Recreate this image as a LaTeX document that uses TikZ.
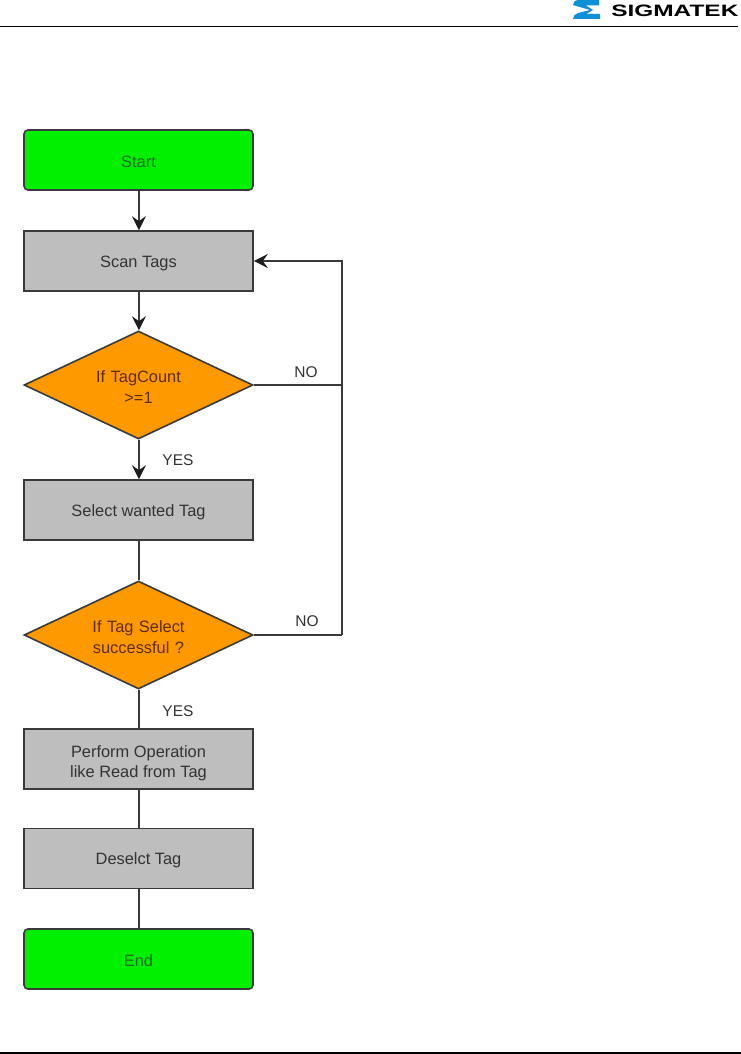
\documentclass[tikz,border=0pt]{standalone}
\usepackage{fontspec}
\setmainfont{Liberation Sans}
\usetikzlibrary{shapes.geometric,arrows.meta}
\definecolor{edge}{HTML}{3A3A3A}
\definecolor{tipcol}{HTML}{1E1E1E}
\definecolor{txt}{HTML}{333333}
\definecolor{txtgreen}{HTML}{1F6B1F}
\definecolor{txtorange}{HTML}{5E2C00}
\definecolor{greenfill}{HTML}{00F000}
\definecolor{greyfill}{HTML}{BEBEBE}
\definecolor{orangefill}{HTML}{FF9900}
\definecolor{logoblue}{HTML}{0F8FD8}
\newcommand{\nudgetext}{\rule{0pt}{16pt}}
\tikzset{
  x=1pt,y=-1pt,
  base/.style={draw=edge,line width=1.6pt,text=txt,font=\fontsize{16.4}{20.5}\selectfont,align=center,inner sep=0pt,minimum width=229pt,execute at begin node=\nudgetext},
  termbox/.style={base,fill=greenfill,text=txtgreen,rounded corners=4pt,minimum height=60pt},
  procbox/.style={base,fill=greyfill,minimum height=60pt},
  decbox/.style={base,fill=orangefill,text=txtorange,diamond,aspect=2.12,minimum width=229pt,minimum height=108pt,text width=125pt},
  link/.style={draw=edge,line width=1.6pt},
  arrowlink/.style={link,-{Stealth[length=14pt,width=14pt,inset=5pt,color=tipcol]}},
  lbl/.style={text=txt,font=\fontsize{15.5}{18}\selectfont,inner sep=0pt},
  rule/.style={draw=black,line width=1.2pt},
  nudged/.style={xshift=0.4pt}
}
\begin{document}
\begin{tikzpicture}
\useasboundingbox (0,0) rectangle (741,1054);
\fill[white] (0,0) rectangle (741,1054);
\node[termbox] (start) at (138.5,160) {Start};
\node[procbox] (scan) at (138.5,261) {Scan Tags};
\node[decbox] (d1) at (138.5,385) {If TagCount\\>=1};
\node[procbox] (select) at (138.5,510) {Select wanted Tag};
\node[decbox] (d2) at (138.5,635) {If Tag Select\\successful ?};
\node[procbox] (perform) at (138.5,759) {\rule{0pt}{20.5pt}Perform Operation\\like Read from Tag};
\node[procbox] (deselect) at (138.5,858.5) {Deselct Tag};
\node[termbox] (end) at (138.5,959) {End};
\coordinate (c1) at (342,385);
\coordinate (c2) at (342,635);
\coordinate (c0) at (342,261);
\draw[arrowlink] ([nudged]start.south) -- ([nudged]scan.north);
\draw[arrowlink] ([nudged]scan.south) -- ([nudged]d1.north);
\draw[arrowlink] ([nudged]d1.south) -- ([nudged]select.north);
\draw[link] ([nudged]select.south) -- ([nudged]d2.north);
\draw[link] ([nudged]d2.south) -- ([nudged]perform.north);
\draw[link] ([nudged]perform.south) -- ([nudged]deselect.north);
\draw[link] ([nudged]deselect.south) -- ([nudged]end.north);
\draw[link] (d1.east) -- (c1);
\draw[link] (d2.east) -- (c2);
\draw[arrowlink] (c2) -- (c0) -- (scan.east);
\node[lbl] (no1) at (306,372) {NO};
\node[lbl] (yes1) at (178,460) {YES};
\node[lbl] (no2) at (307,621) {NO};
\node[lbl] (yes2) at (178,711) {YES};
% header and footer rules
\coordinate (hl) at (0,26.5);
\coordinate (hr) at (738,26.5);
\coordinate (fl) at (0,1053);
\coordinate (fr) at (741,1053);
\draw[rule] (hl) -- (hr);
\draw[draw=black,line width=2pt] (fl) -- (fr);
% logo
\fill[logoblue] (599,0) -- (579,0) .. controls (575,0) and (573,2) .. (573,5) -- (590,10) -- (578,13) .. controls (575,14) and (573,16) .. (573,19) -- (600,19) -- (600,14) -- (586,14) -- (593,10) -- (586,5.5) -- (599,5.5) -- cycle;
\node[anchor=west,inner sep=0pt,text=black,font=\bfseries\fontsize{16.5}{17}\selectfont,xscale=1.48] (logo) at (611,11) {SIGMATEK};
\end{tikzpicture}
\end{document}
